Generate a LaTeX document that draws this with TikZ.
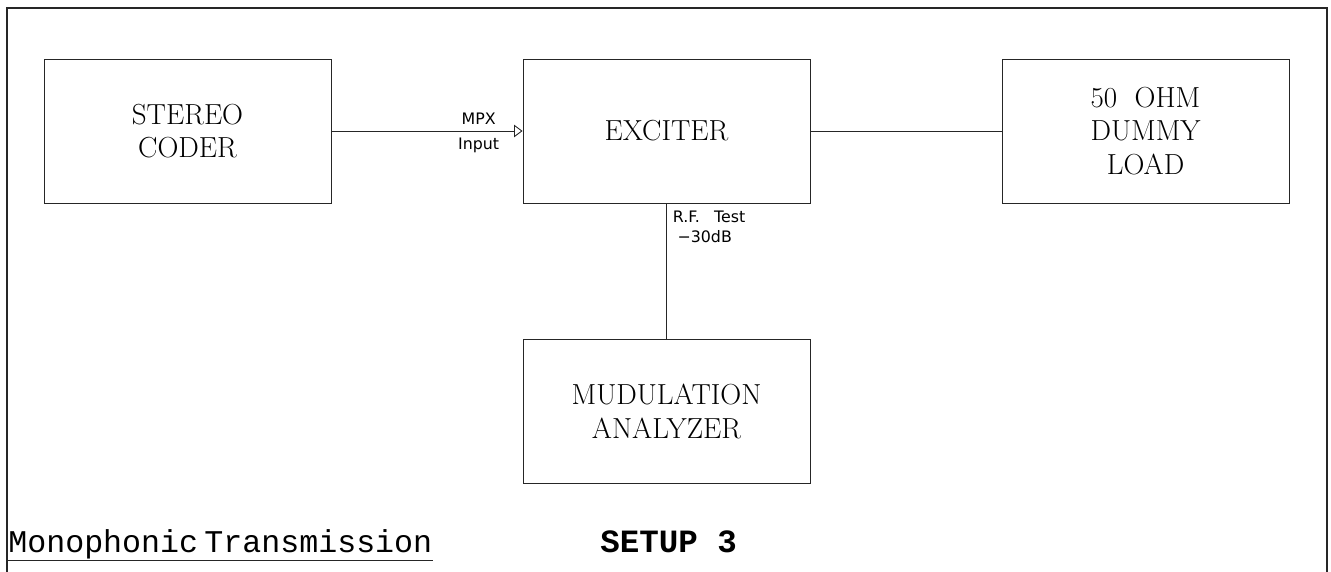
\documentclass[tikz,border=0pt]{standalone}
\usepackage{fontspec}
\usepackage{tikz}
\usetikzlibrary{arrows.meta}
\usetikzlibrary{positioning}
\newfontfamily\portfont{DejaVu Sans}
\newfontfamily\titlefont{Liberation Mono}
\tikzset{
unit/.style = { rectangle, draw = black!85, fill = white, line width = 0.5pt, minimum width = 57.4mm, minimum height = 28.8mm, align = center, font = \fontsize{16.5}{19}\selectfont },
port/.style = { inner sep = 0pt, align = left, font = \portfont\fontsize{9}{11.3}\selectfont },
feed/.style = { draw = black!85, line width = 0.5pt },
caption/.style = { anchor = base west, inner sep = 0pt, font = \titlefont\fontsize{18}{20}\selectfont },
}

\begin{document}
\begin{tikzpicture}
    \useasboundingbox (0, 0) rectangle (26.62, -11.44);
    % sheet frame, open at the bottom
    \draw[line width = 1.2pt, black!85] (0.14, -11.44) -- (0.14, -0.16) -- (26.54, -0.16) -- (26.54, -11.44);
    \node[unit] (coder) at (3.75, -2.62) {STEREO\\CODER};
    \node[unit] (exciter) at (13.33, -2.62) {EXCITER};
    \node[unit] (load) at (22.91, -2.62) {50\ \ OHM\\DUMMY\\LOAD};
    \node[unit] (analyzer) at (13.33, -8.23) {MUDULATION\\ANALYZER};
    \draw[feed, -{Triangle[open, length = 1.7mm, width = 2.5mm]}] (coder) -- node[port, pos = 0.77, above = 1.2mm] (mpx) {MPX} node[port, pos = 0.77, below = 1.4mm] (input) {Input} (exciter);
    \draw[feed] (exciter) -- (load);
    \draw[feed] (exciter) -- (analyzer);
    \node[port, anchor = north west] (rftest) at ([xshift = 1.2mm, yshift = -1.4mm]exciter.south) {R.F.\hspace{0.9em}Test\\\hspace*{0.3em}−30dB};
    \node[caption] (mono) at (0.16, -11.04) {Monophonic\hspace{0.2em}Transmission};
    \draw[feed] ([yshift = -0.3mm]mono.south west) -- ([yshift = -0.3mm]mono.south east);
    \node[caption, font = \titlefont\bfseries\fontsize{18.5}{20}\selectfont] (setup) at (12.0, -11.04) {SETUP 3};
\end{tikzpicture}
\end{document}
